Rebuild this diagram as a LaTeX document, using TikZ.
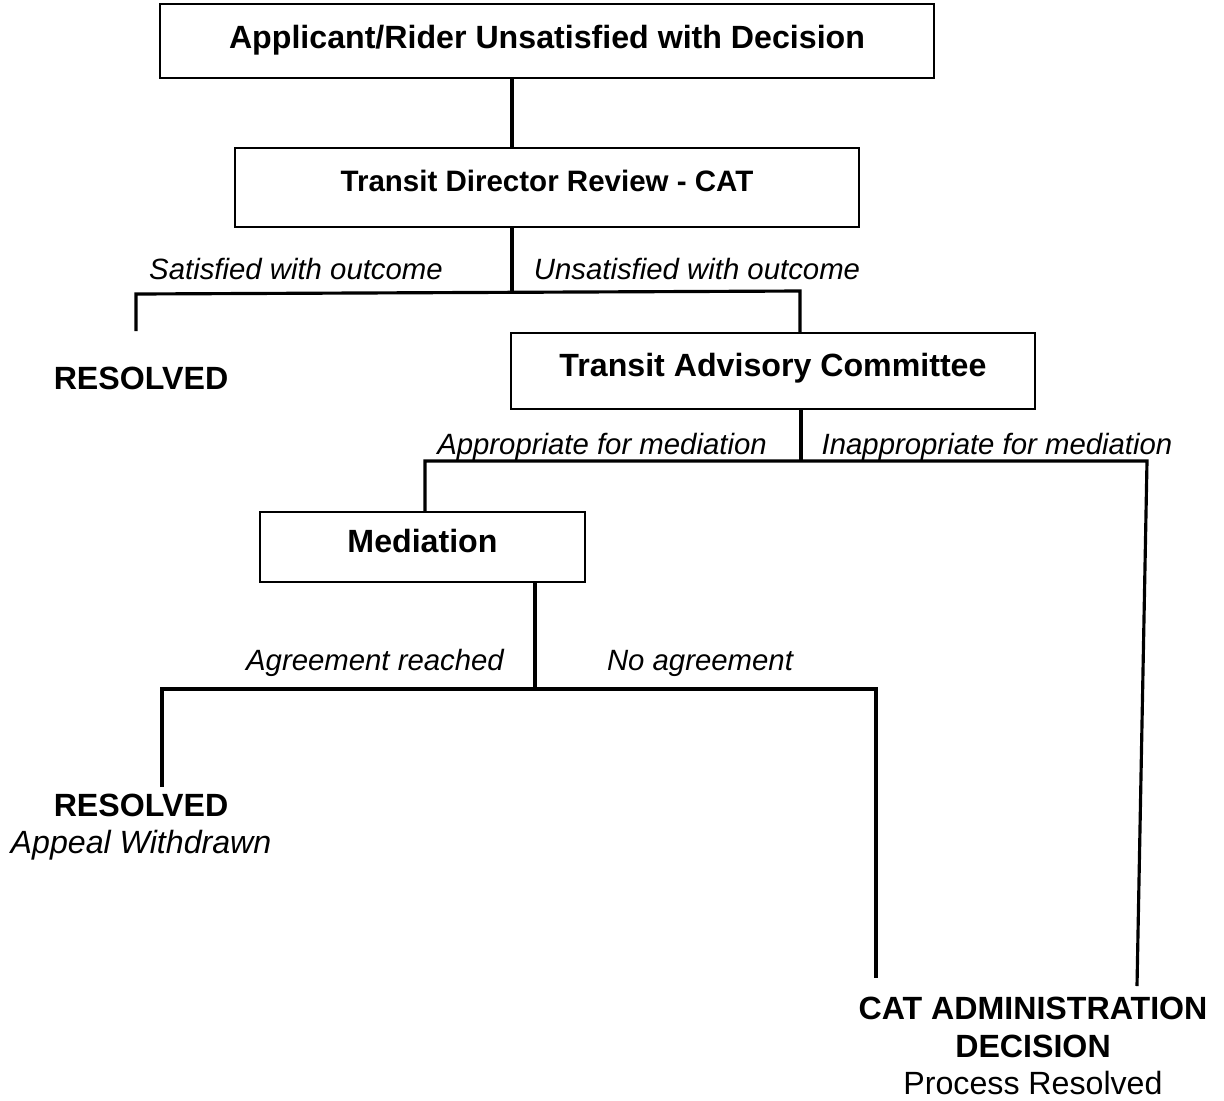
\documentclass[tikz,border=0pt]{standalone}
\usepackage{fontspec}
\setmainfont{Liberation Sans}
\usetikzlibrary{calc}

\tikzset{
  box/.style={draw, line width=1pt, text height=13pt, text depth=7pt,
    font=\bfseries\fontsize{18.3}{21.6}\selectfont},
  branch/.style={line width=1.8pt},
  lbl/.style={font=\itshape\fontsize{16.7}{20}\selectfont},
  endtext/.style={align=center, font=\fontsize{18.3}{21.5}\selectfont}
}

\begin{document}
\begin{tikzpicture}[x=0.02cm, y=-0.02cm]
  \useasboundingbox (0,0) rectangle (1224,1100);
  % boxes
  \node[box, minimum width=15.48cm, minimum height=1.48cm, text depth=5pt] (applicant) at (547,41) {Applicant/Rider Unsatisfied with Decision};
  \node[box, minimum width=12.48cm, minimum height=1.58cm, font=\bfseries\fontsize{16.8}{20}\selectfont, text depth=9pt] (director) at (547,187.5) {Transit Director Review - CAT};
  \node[box, minimum width=10.48cm, minimum height=1.52cm] (committee) at (773,371) {Transit Advisory Committee};
  \node[box, minimum width=6.5cm, minimum height=1.4cm] (mediation) at (422.5,547) {Mediation};
  % end texts
  \node[endtext, font=\bfseries\fontsize{18.3}{21.5}\selectfont] (resolvedA) at (141,378) {RESOLVED};
  \node[endtext] (resolvedB) at (141,827) {\textbf{RESOLVED}\\\textit{Appeal Withdrawn}};
  \node[endtext] (catdecision) at (1033,1046) {\textbf{CAT ADMINISTRATION}\\\textbf{DECISION}\\Process Resolved};
  % junctions
  \coordinate (dirsplit) at (512,293);
  \coordinate (satleft) at (136,294);
  \coordinate (satend) at (136,331);
  \coordinate (unsright) at (800,291);
  \coordinate (comsplit) at (801,461);
  \coordinate (appleft) at (425,461);
  \coordinate (inappright) at (1147,461);
  \coordinate (inappend) at (1137,986);
  \coordinate (medsplit) at (535,689);
  \coordinate (agreeleft) at (162,689);
  \coordinate (agreeend) at (162,787);
  \coordinate (noright) at (876,689);
  \coordinate (noend) at (876,978);
  % connectors
  \draw[branch] (applicant.south -| dirsplit) -- (director.north -| dirsplit);
  \draw[branch] (director.south -| dirsplit) -- (dirsplit);
  \draw[branch] (satend) -- (satleft) -- (unsright) -- (committee.north -| unsright);
  \draw[branch] (committee.south -| comsplit) -- (comsplit);
  \draw[branch] (mediation.north -| appleft) -- (appleft) -- (inappright) -- (inappend);
  \draw[branch] (mediation.south -| medsplit) -- (medsplit);
  \draw[branch] (agreeend) -- (agreeleft) -- (noright) -- (noend);
  % labels
  \node[lbl] at (296,269) {Satisfied with outcome};
  \node[lbl] at (697,269) {Unsatisfied with outcome};
  \node[lbl] at (602,447) {Appropriate for mediation};
  \node[lbl] at (997,447) {Inappropriate for mediation};
  \node[lbl] at (375,663) {Agreement reached};
  \node[lbl] at (700,663) {No agreement};
\end{tikzpicture}
\end{document}
